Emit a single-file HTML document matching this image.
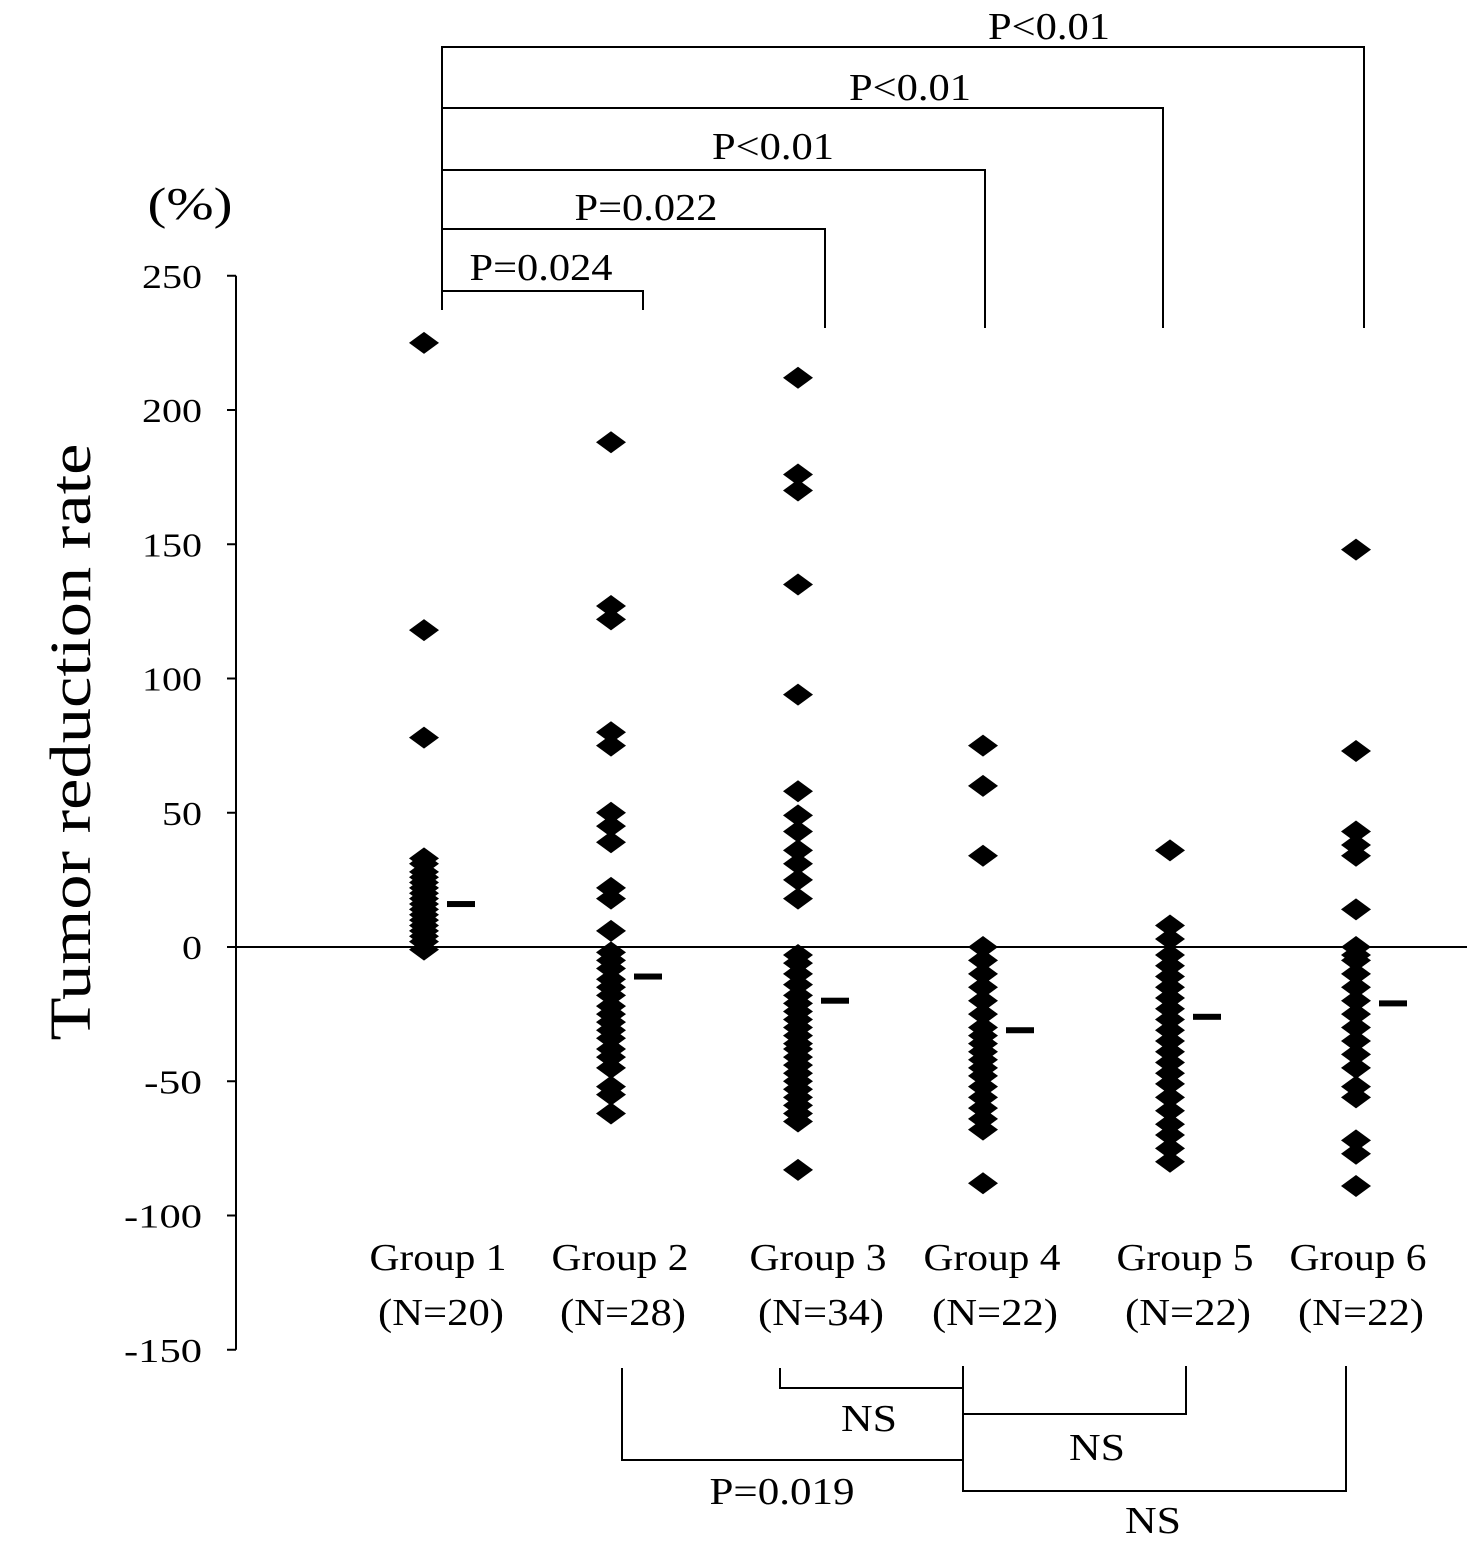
<!DOCTYPE html>
<html><head><meta charset="utf-8"><style>
body{margin:0;background:#fff}
svg text{font-family:"Liberation Serif",serif;fill:#000}
</style></head><body>
<svg width="1480" height="1547" viewBox="0 0 1480 1547">
<g id="axes"></g>
<g id="marks"></g>
<g id="ann" stroke="#000" stroke-width="2" fill="none">
<polyline points="442,310 442,291 643,291 643,310"/>
<polyline points="442,229 825,229 825,328"/>
<polyline points="442,170 985,170 985,328"/>
<polyline points="442,108 1163,108 1163,328"/>
<polyline points="442,310 442,47 1364,47 1364,328"/>
<polyline points="780,1368 780,1388 963,1388"/>
<polyline points="963,1414 1186,1414 1186,1366"/>
<polyline points="622,1368 622,1460 963,1460"/>
<polyline points="963,1366 963,1491 1346,1491 1346,1366"/>
</g>
<g font-size="38" text-anchor="middle" lengthAdjust="spacingAndGlyphs">
<text x="541" y="280" textLength="143" lengthAdjust="spacingAndGlyphs">P=0.024</text>
<text x="646" y="220" textLength="143" lengthAdjust="spacingAndGlyphs">P=0.022</text>
<text x="773" y="159" textLength="122" lengthAdjust="spacingAndGlyphs">P&lt;0.01</text>
<text x="910" y="100" textLength="122" lengthAdjust="spacingAndGlyphs">P&lt;0.01</text>
<text x="1049" y="39" textLength="122" lengthAdjust="spacingAndGlyphs">P&lt;0.01</text>
<text x="869" y="1431" textLength="56" lengthAdjust="spacingAndGlyphs">NS</text>
<text x="1097" y="1460" textLength="56" lengthAdjust="spacingAndGlyphs">NS</text>
<text x="782" y="1504" textLength="145" lengthAdjust="spacingAndGlyphs">P=0.019</text>
<text x="1153" y="1533" textLength="56" lengthAdjust="spacingAndGlyphs">NS</text>
</g>
<text x="190" y="219" font-size="46" text-anchor="middle" textLength="85" lengthAdjust="spacingAndGlyphs">(%)</text>
<text transform="translate(90,742) rotate(-90)" font-size="58" text-anchor="middle" textLength="597" lengthAdjust="spacingAndGlyphs">Tumor reduction rate</text>
</svg>
<script>
const groupNames=["Group 1","Group 2","Group 3","Group 4","Group 5","Group 6"];
const groupN=["(N=20)","(N=28)","(N=34)","(N=22)","(N=22)","(N=22)"];
const g1=[225,118,78,33,31,28,26,24,22,20,18,16,14,12,10,8,6,4,2,-1];
const g2=[188,127,122,80,75,50,45,39,22,18,6,-2,-5,-8,-12,-15,-18,-22,-25,-28,-31,-34,-38,-41,-45,-52,-55,-62];
const g3=[212,176,170,135,94,58,49,43,36,31,25,18,-3,-6,-10,-14,-18,-21,-24,-27,-30,-33,-36,-38,-41,-44,-47,-50,-53,-56,-59,-62,-65,-83];
const g4=[75,60,34,0,-5,-10,-15,-20,-25,-30,-33,-36,-39,-42,-45,-48,-52,-56,-60,-64,-68,-88];
const g5=[36,8,3,-3,-7,-11,-15,-19,-23,-27,-31,-35,-39,-43,-47,-51,-56,-61,-66,-70,-75,-80];
const g6=[148,73,43,38,34,14,0,-3,-5,-10,-15,-20,-25,-30,-35,-40,-45,-52,-56,-72,-77,-89];
const means=[16,-11,-20,-31,-26,-21];
const yTicks=[250,200,150,100,50,0,-50,-100,-150];
const groupX=[424,611,798,983,1170,1356];
const labelX=[438,620,818,992,1185,1358];
const NS="http://www.w3.org/2000/svg";
const y=v=>947-(v*2.685);
function mk(tag,attrs,parent){const e=document.createElementNS(NS,tag);for(const k in attrs)e.setAttribute(k,attrs[k]);parent.appendChild(e);return e;}
const axes=document.getElementById('axes'),marks=document.getElementById('marks');
let l=mk('line',{x1:236,y1:y(250),x2:236,y2:y(-150),stroke:'#000','stroke-width':2},axes);


l=mk('line',{x1:236,y1:y(0),x2:1467,y2:y(0),stroke:'#000','stroke-width':2},axes);


yTicks.forEach(t=>{
 const tk=mk('line',{x1:227,y1:y(t),x2:236,y2:y(t),stroke:'#000','stroke-width':2},axes);
 
 
 const s=String(t);
 const w=s.replace('-','').length*20+(t<0?18:0);
 const tx=mk('text',{x:202,y:y(t)+12,'font-size':34,'text-anchor':'end',textLength:w,lengthAdjust:'spacingAndGlyphs'},axes);
 tx.textContent=s;
 
 
});
[g1,g2,g3,g4,g5,g6].forEach((arr,i)=>{
 const cx=groupX[i];
 arr.forEach(v=>{
  const cy=y(v);
  const p=mk('polygon',{points:`${cx-15},${cy} ${cx},${cy-11} ${cx+15},${cy} ${cx},${cy+11}`,fill:'#000'},marks);
  
  
 });
 const m=mk('rect',{x:cx+23,y:y(means[i])-3,width:28,height:6,fill:'#000'},marks);
 
 
 const t1=mk('text',{x:labelX[i],y:1270,'font-size':38,'text-anchor':'middle',textLength:137,lengthAdjust:'spacingAndGlyphs'},axes);
 t1.textContent=groupNames[i];
 
 
 const t2=mk('text',{x:labelX[i]+3,y:1325,'font-size':38,'text-anchor':'middle',textLength:126,lengthAdjust:'spacingAndGlyphs'},axes);
 t2.textContent=groupN[i];
 
 
});
</script>
</body></html>
